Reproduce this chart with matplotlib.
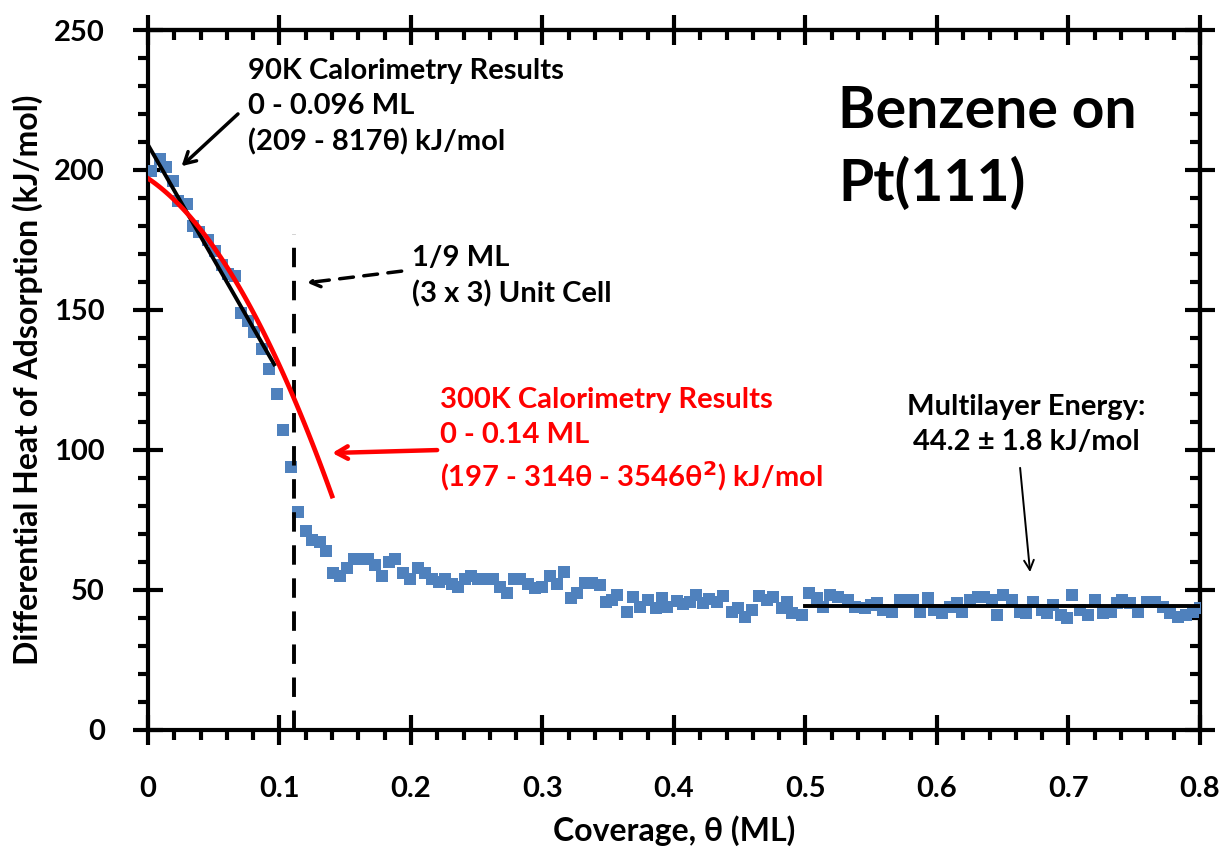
import numpy as np
import matplotlib
matplotlib.use("Agg")
import matplotlib.pyplot as plt
from matplotlib.ticker import MultipleLocator

# ---- data ----
coverage = [0.002, 0.009, 0.014, 0.019, 0.023, 0.030, 0.034, 0.039, 0.046, 0.051,
            0.056, 0.061, 0.066, 0.071, 0.076, 0.081, 0.087, 0.092, 0.098, 0.103,
            0.109, 0.114, 0.120, 0.125, 0.131, 0.135, 0.141, 0.146, 0.151, 0.157,
            0.162, 0.167, 0.173, 0.178, 0.183, 0.188, 0.194, 0.199, 0.205, 0.211,
            0.216, 0.221, 0.226, 0.231, 0.236, 0.241, 0.246, 0.251, 0.256, 0.262,
            0.268, 0.273, 0.278, 0.283, 0.289, 0.294, 0.300, 0.306, 0.311, 0.316,
            0.322, 0.326, 0.332, 0.338, 0.344, 0.348, 0.353, 0.357, 0.364, 0.369,
            0.374, 0.380, 0.386, 0.391, 0.395, 0.402, 0.407, 0.412, 0.417, 0.422,
            0.427, 0.433, 0.437, 0.444, 0.449, 0.454, 0.459, 0.465, 0.471, 0.475,
            0.482, 0.486, 0.490, 0.497, 0.503, 0.509, 0.513, 0.519, 0.525, 0.532,
            0.538, 0.545, 0.550, 0.554, 0.559, 0.566, 0.572, 0.577, 0.582, 0.587,
            0.593, 0.598, 0.604, 0.610, 0.615, 0.619, 0.625, 0.631, 0.636, 0.642,
            0.646, 0.650, 0.657, 0.663, 0.668, 0.673, 0.680, 0.684, 0.688, 0.694,
            0.699, 0.703, 0.709, 0.715, 0.720, 0.726, 0.732, 0.737, 0.741, 0.747,
            0.753, 0.760, 0.766, 0.772, 0.777, 0.783, 0.789, 0.795, 0.800]
heat = [199.5, 204.0, 201.0, 196.0, 189.0, 188.0, 180.0, 178.0, 175.0, 171.0,
        166.0, 163.0, 162.0, 149.0, 146.0, 142.0, 136.0, 129.0, 120.0, 107.0,
        94.0, 78.0, 71.0, 68.0, 67.0, 64.0, 56.0, 55.0, 58.0, 61.0,
        61.0, 61.0, 59.0, 55.0, 60.0, 61.0, 56.0, 54.0, 58.0, 56.0,
        54.0, 53.0, 54.0, 52.0, 51.0, 54.0, 55.0, 54.0, 54.0, 54.0,
        51.0, 49.0, 54.0, 54.0, 52.0, 50.7, 51.0, 55.0, 52.0, 56.4,
        47.0, 49.0, 52.5, 52.5, 51.8, 45.7, 46.4, 48.2, 42.0, 47.5,
        44.0, 46.4, 43.6, 47.0, 44.0, 46.0, 45.0, 45.7, 48.2, 45.4,
        46.8, 45.7, 47.9, 42.0, 43.6, 40.4, 42.9, 47.9, 46.4, 47.5,
        43.6, 45.7, 41.8, 41.0, 49.0, 47.0, 44.0, 48.2, 47.5, 46.4,
        44.0, 43.6, 44.5, 45.4, 42.9, 42.0, 46.4, 46.4, 46.4, 42.0,
        47.0, 42.9, 41.8, 44.0, 45.4, 42.0, 46.4, 47.5, 47.5, 46.4,
        41.0, 48.2, 46.4, 42.0, 41.8, 45.7, 42.9, 41.8, 44.6, 41.0,
        40.0, 48.2, 42.9, 41.0, 46.4, 41.8, 42.0, 45.4, 46.4, 45.4,
        42.0, 45.7, 45.7, 44.0, 41.8, 40.4, 41.0, 42.0, 43.6]

# fits
fit90_coef = [209, -817]          # kJ/mol, 0 - 0.096 ML
fit90_range = [0.0, 0.096]
fit300_coef = [197, -314, -3546]  # kJ/mol, 0 - 0.14 ML
fit300_range = [0.0, 0.14]
multilayer_energy = 44.2
multilayer_range = [0.5, 0.8]
unit_cell_cov = 1 / 9
unit_cell_top = 177

xticks = [0, 0.1, 0.2, 0.3, 0.4, 0.5, 0.6, 0.7, 0.8]
xticklabels = ["0", "0.1", "0.2", "0.3", "0.4", "0.5", "0.6", "0.7", "0.8"]
yticks = [0, 50, 100, 150, 200, 250]

# ---- plotting ----
plt.rcParams['font.family'] = ['Lato', 'DejaVu Sans']
plt.rcParams['font.weight'] = 'bold'

fig = plt.figure(figsize=(12.28, 8.5), dpi=100)
ax = fig.add_axes([0.1205, 0.1412, 0.9772 - 0.1205, 0.9647 - 0.1412])

blue = '#4F81BD'
ax.plot(coverage, heat, linestyle='none', marker='s', markersize=8.3,
        color=blue, markeredgewidth=0, zorder=3)

t90 = np.linspace(fit90_range[0], fit90_range[1], 50)
ax.plot(t90, fit90_coef[0] + fit90_coef[1] * t90, color='black', lw=2.8, zorder=4)

t300 = np.linspace(fit300_range[0], fit300_range[1], 100)
ax.plot(t300, fit300_coef[0] + fit300_coef[1] * t300 + fit300_coef[2] * t300 ** 2,
        color='red', lw=3.4, zorder=5)

ax.plot(multilayer_range, [multilayer_energy, multilayer_energy], color='black', lw=2.8, zorder=4)

ax.plot([unit_cell_cov, unit_cell_cov], [0, unit_cell_top], color='black', lw=2.8,
        linestyle=(0, (5, 3.5)), zorder=4)

ax.set_xlim(0, 0.8)
ax.set_ylim(0, 250)
ax.set_xticks(xticks)
ax.set_xticklabels(xticklabels)
ax.set_yticks(yticks)
ax.xaxis.set_minor_locator(MultipleLocator(0.02))
ax.yaxis.set_minor_locator(MultipleLocator(10))

lw_ax = 3.0
for s in ax.spines.values():
    s.set_linewidth(lw_ax)

ax.tick_params(which='major', direction='inout', length=22, width=lw_ax,
               labelsize=21)
ax.tick_params(axis='y', which='major', pad=20)
ax.tick_params(axis='x', which='major', pad=22)
ax.tick_params(which='minor', direction='out', length=7, width=lw_ax)
# top / right mirrored axes with inward minor ticks
secx = ax.secondary_xaxis('top')
secx.set_xticks(xticks)
secx.xaxis.set_minor_locator(MultipleLocator(0.02))
secx.tick_params(which='major', direction='inout', length=22, width=lw_ax, labeltop=False)
secx.tick_params(which='minor', direction='in', length=7, width=lw_ax)
secx.spines['top'].set_linewidth(lw_ax)
secy = ax.secondary_yaxis('right')
secy.set_yticks(yticks)
secy.yaxis.set_minor_locator(MultipleLocator(10))
secy.tick_params(which='major', direction='inout', length=22, width=lw_ax, labelright=False)
secy.tick_params(which='minor', direction='in', length=7, width=lw_ax)
secy.spines['right'].set_linewidth(lw_ax)
ax.tick_params(top=False, right=False, which='both')

ax.set_xlabel('Coverage, θ (ML)', fontsize=23, fontweight='bold', labelpad=10)
ax.set_ylabel('Differential Heat of Adsorption (kJ/mol)', fontsize=23,
              fontweight='bold', labelpad=8)

# annotations
fs = 21
ls = 1.42
ax.text(0.076, 222.5, '90K Calorimetry Results\n0 - 0.096 ML\n(209 - 817θ) kJ/mol',
        fontsize=fs, fontweight='bold', va='center', ha='left', linespacing=ls)
ax.annotate('', xy=(0.024, 200.7), xytext=(0.070, 220.7),
            arrowprops=dict(arrowstyle='->,head_length=0.8,head_width=0.45', lw=2.5, color='black'))

ax.text(0.2008, 162, '1/9 ML\n(3 x 3) Unit Cell', fontsize=fs, fontweight='bold',
        va='center', ha='left', linespacing=ls)
ax.annotate('', xy=(0.119, 159.6), xytext=(0.195, 164),
            arrowprops=dict(arrowstyle='->,head_length=0.7,head_width=0.4', lw=2.5,
                            color='black', linestyle=(0, (4, 3))))

ax.text(0.222, 103.6, '300K Calorimetry Results\n0 - 0.14 ML\n(197 - 314θ - 3546θ$^{2}$) kJ/mol',
        fontsize=fs, fontweight='bold', color='red', va='center', ha='left', linespacing=ls)
ax.annotate('', xy=(0.138, 98.9), xytext=(0.222, 100),
            arrowprops=dict(arrowstyle='->,head_length=0.8,head_width=0.45', lw=3.2, color='red'))

ax.text(0.668, 109, 'Multilayer Energy:\n44.2 ± 1.8 kJ/mol', fontsize=fs, fontweight='bold',
        va='center', ha='center', linespacing=ls)
ax.annotate('', xy=(0.671, 55.4), xytext=(0.663, 94.6),
            arrowprops=dict(arrowstyle='->,head_length=0.7,head_width=0.35', lw=1.4, color='black'))

ax.text(0.525, 208, 'Benzene on\nPt(111)', fontsize=41, fontweight='bold',
        va='center', ha='left', linespacing=1.42)

fig.savefig('out.png', dpi=100)
